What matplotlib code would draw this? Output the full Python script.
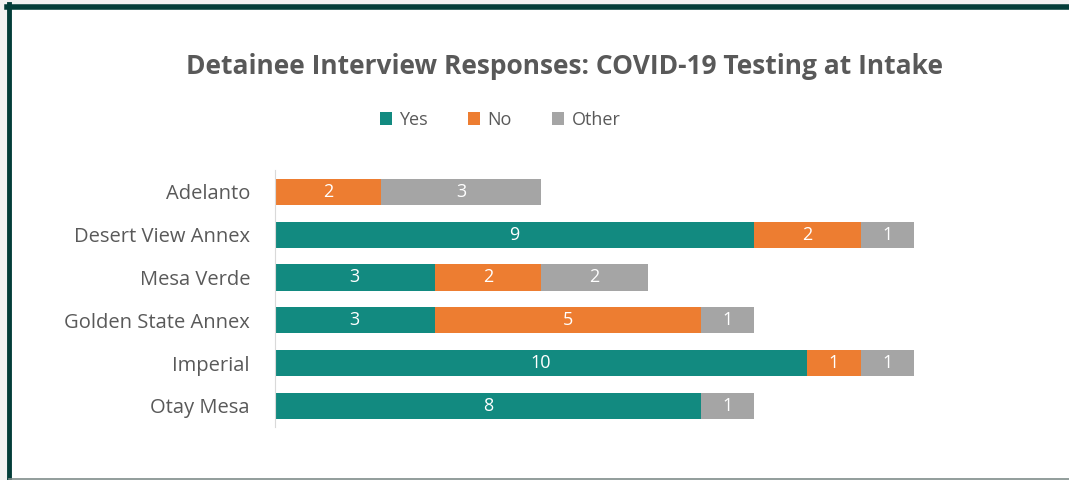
import matplotlib.pyplot as plt
from matplotlib.lines import Line2D
from matplotlib.patches import Rectangle

plt.rcParams['font.family'] = ['Open Sans', 'DejaVu Sans']

# data
facilities = ["Adelanto", "Desert View Annex", "Mesa Verde", "Golden State Annex", "Imperial", "Otay Mesa"]
yes = [0, 9, 3, 3, 10, 8]
no = [2, 2, 2, 5, 1, 0]
other = [3, 1, 2, 1, 1, 1]
series_names = ["Yes", "No", "Other"]
colors = ["#128a80", "#ed7d31", "#a5a5a5"]

W, H = 1069, 480
fig = plt.figure(figsize=(W / 100, H / 100), dpi=100)

# frame of the slide
fig.patches.append(Rectangle((0, 0), 1, 1, transform=fig.transFigure, color="#f2f2f2", zorder=-3))
fig.patches.append(Rectangle((9 / W, 0), 1, 1 - 7 / H, transform=fig.transFigure, color="white", zorder=-2))
fig.lines.append(Line2D([9 / W, 9 / W], [0, 1 - 4 / H], transform=fig.transFigure, color="#033d39", lw=3.5))
fig.lines.append(Line2D([7 / W, 1], [1 - 6.5 / H, 1 - 6.5 / H], transform=fig.transFigure, color="#033d39", lw=4))
fig.lines.append(Line2D([9 / W, 1], [1.5 / H, 1.5 / H], transform=fig.transFigure, color="#7f8c8a", lw=1.2))

ax = fig.add_axes([275 / W, 52.6 / H, 692 / W, 257 / H])

y = range(len(facilities))
left = [0] * len(facilities)
for name, vals, c in zip(series_names, [yes, no, other], colors):
    ax.barh(y, vals, left=left, height=0.61, color=c, label=name)
    for i, v in enumerate(vals):
        if v > 0:
            ax.text(left[i] + v / 2, i, str(v), ha="center", va="center",
                    color="white", fontsize=13)
    left = [l + v for l, v in zip(left, vals)]

ax.set_xlim(0, 13)
ax.set_ylim(len(facilities) - 0.5, -0.5)
ax.set_yticks(list(y))
ax.set_yticklabels(facilities, fontsize=14.5, color="#595959")
ax.set_xticks([])
ax.tick_params(axis="y", length=0, pad=18)
for s in ["top", "right", "bottom"]:
    ax.spines[s].set_visible(False)
ax.spines["left"].set_color("#d9d9d9")

fig.text(564 / W, 1 - 66 / H, "Detainee Interview Responses: COVID-19 Testing at Intake",
         ha="center", va="center", fontsize=19, fontweight="bold", color="#595959")

fig.legend(loc="center", bbox_to_anchor=(500 / W, 1 - 120 / H), ncol=3, frameon=False,
           fontsize=13, labelcolor="#595959", handlelength=0.7, handleheight=0.7,
           handletextpad=0.4, columnspacing=2.2)

fig.savefig("out.png", dpi=100)
